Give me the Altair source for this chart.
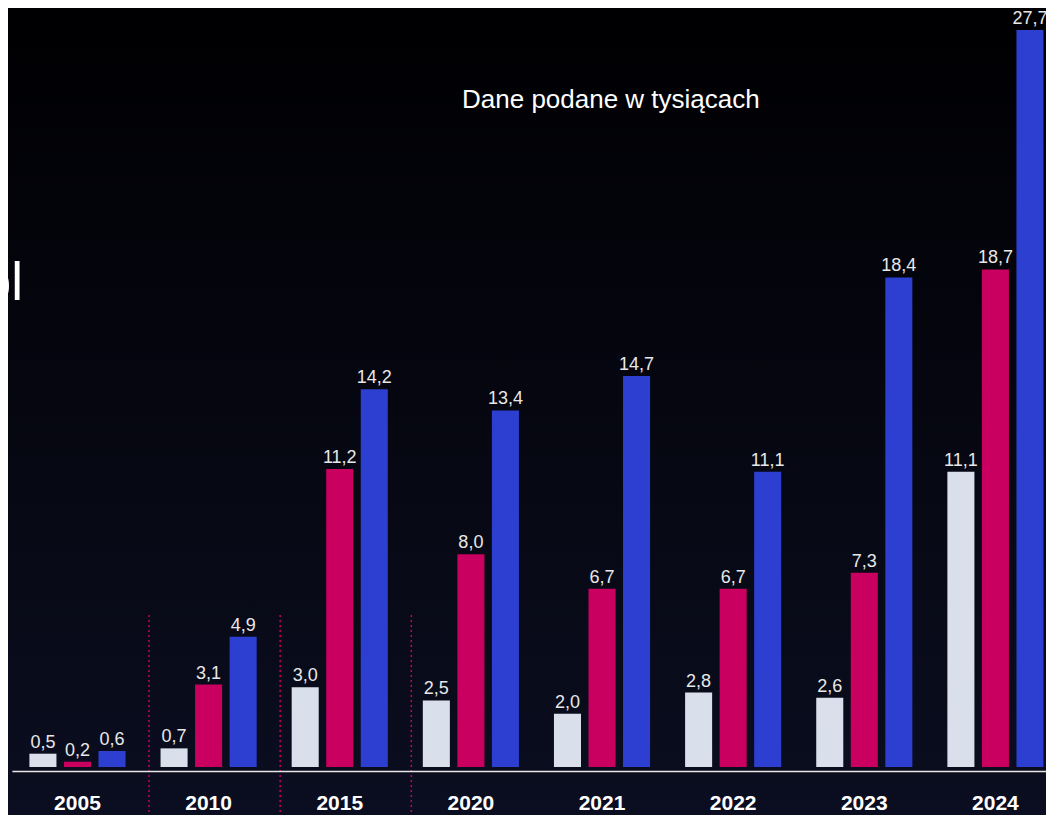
import altair as alt
import pandas as pd

years = ["2005", "2010", "2015", "2020", "2021", "2022", "2023", "2024"]
series = ["A", "B", "C"]
values_a = [0.5, 0.7, 3.0, 2.5, 2.0, 2.8, 2.6, 11.1]
values_b = [0.2, 3.1, 11.2, 8.0, 6.7, 6.7, 7.3, 18.7]
values_c = [0.6, 4.9, 14.2, 13.4, 14.7, 11.1, 18.4, 27.7]
separators = ["2010", "2015", "2020"]
note = "Dane podane w tysiącach"
title_fragment = "bl"
colors = ["#d9e0eb", "#c9005f", "#2d3fd1"]

rows = []
for s, vals in zip(series, [values_a, values_b, values_c]):
    for y, v in zip(years, vals):
        rows.append({"year": y, "series": s, "value": v,
                     "label": f"{v:.1f}".replace(".", ",")})
df = pd.DataFrame(rows)
sep_df = pd.DataFrame({"year": separators})
bg_df = pd.DataFrame({"bg": [0]})
note_df = pd.DataFrame({"t": [note]})
frag_df = pd.DataFrame({"t": [title_fragment]})

W, H = 1038, 763
xscale = alt.Scale(domain=years, range=[3.9, 1053], paddingInner=0, paddingOuter=0)
oscale = alt.Scale(domain=series, paddingInner=0.217, paddingOuter=0.507)
yscale = alt.Scale(domain=[0, 27.7], range=[759, 22], nice=False, zero=True)

bg = alt.Chart(bg_df).mark_rect(
    color={"gradient": "linear",
           "stops": [{"offset": 0, "color": "#000002"},
                     {"offset": 0.45, "color": "#05060f"},
                     {"offset": 1, "color": "#0b0e20"}],
           "x1": 0, "y1": 0, "x2": 0, "y2": 1}
).encode(x=alt.value(0), x2=alt.value(W), y=alt.value(0), y2=alt.value(807))

xaxis = alt.Axis(title=None, labelFontSize=21, labelFontWeight="bold",
                 labelColor="#ffffff", ticks=False, tickSize=0, grid=False,
                 labelPadding=21, domainColor="#e6e6e6", domainWidth=1.5,
                 labelAngle=0, zindex=1)

bars = alt.Chart(df).mark_bar().encode(
    x=alt.X("year:N", scale=xscale, axis=xaxis, sort=years),
    xOffset=alt.XOffset("series:N", scale=oscale, sort=series),
    y=alt.Y("value:Q", scale=yscale, axis=None),
    color=alt.Color("series:N", scale=alt.Scale(domain=series, range=colors), legend=None),
)

labels = alt.Chart(df).mark_text(
    baseline="alphabetic", dy=-6, fontSize=18, color="#e8e8e8"
).encode(
    x=alt.X("year:N", scale=xscale, sort=years, axis=xaxis),
    xOffset=alt.XOffset("series:N", scale=oscale, sort=series),
    y=alt.Y("value:Q", scale=yscale, axis=None),
    text="label:N",
)

rules = alt.Chart(sep_df).mark_rule(
    color="#c8005f", strokeDash=[2, 3], strokeWidth=1.5, xOffset=6
).encode(
    x=alt.X("year:N", scale=xscale, bandPosition=0, axis=xaxis),
    y=alt.value(607), y2=alt.value(807),
)

note_text = alt.Chart(note_df).mark_text(
    align="left", baseline="alphabetic", fontSize=26, color="#ffffff"
).encode(x=alt.value(454), y=alt.value(100), text="t:N")

frag_text = alt.Chart(frag_df).mark_text(
    align="right", baseline="alphabetic", fontSize=53, color="#ffffff"
).encode(x=alt.value(15), y=alt.value(292), text="t:N")

chart = alt.layer(bg, rules, bars, labels, note_text, frag_text).properties(
    width=W, height=H,
    padding={"left": 0, "top": 0, "right": 0, "bottom": 44},
    autosize=alt.AutoSizeParams(type="none"),
    background="#03040a",
).configure(font="Liberation Sans").configure_view(stroke=None)

chart.save("out.html", embed_options={"renderer": "svg", "actions": False})
